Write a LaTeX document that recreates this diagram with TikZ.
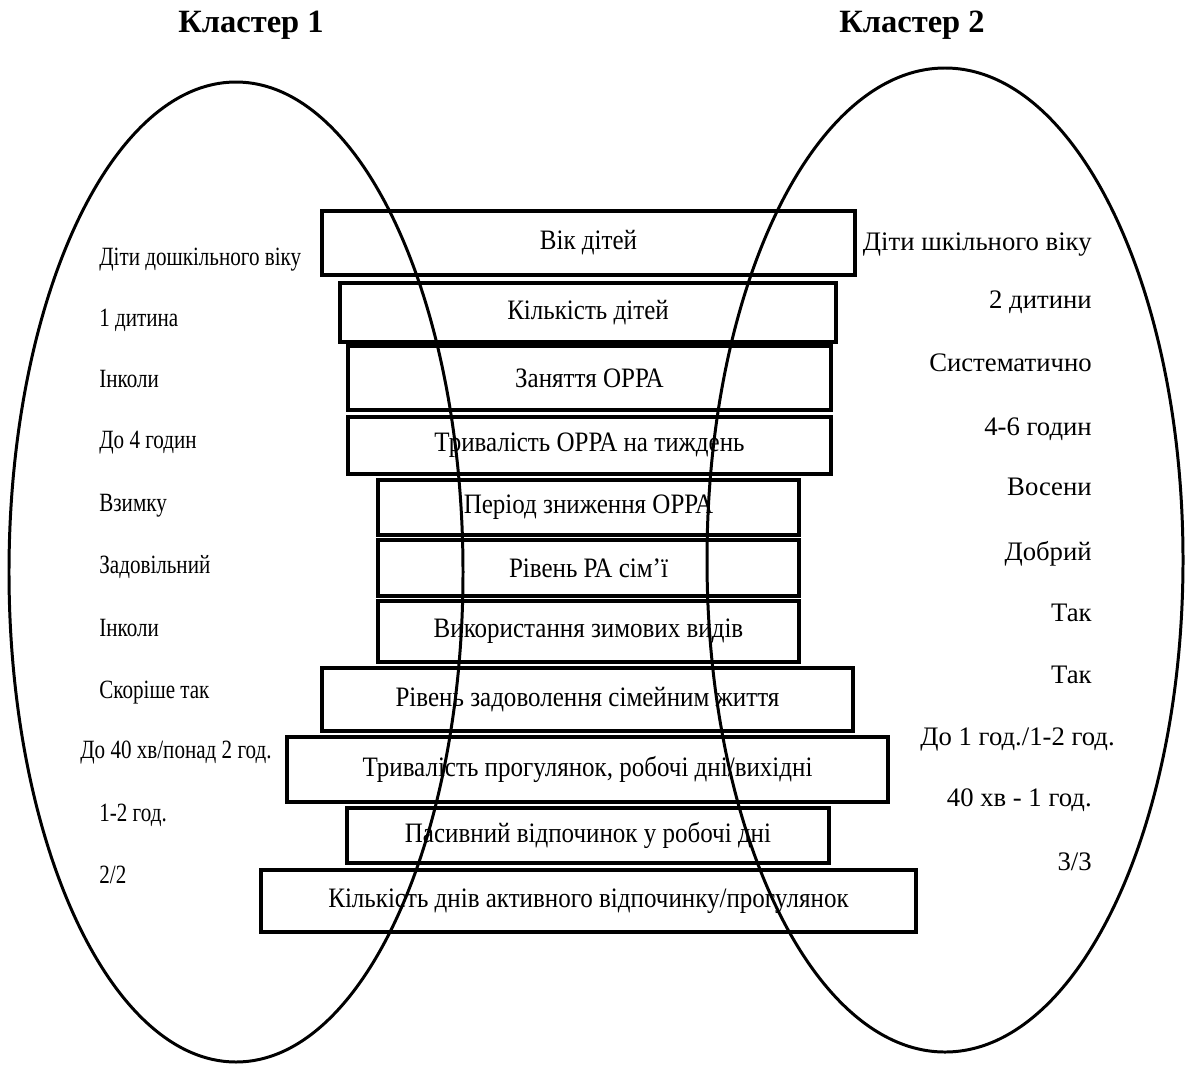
\documentclass[tikz,border=0pt]{standalone}
\usepackage{fontspec}
\setmainfont{Liberation Serif}
\newfontfamily\narrowfont{Liberation Serif}[FakeStretch=0.80]
\newfontfamily\boxfont{Liberation Serif}[FakeStretch=0.89]
\usetikzlibrary{positioning}

\tikzset{
	ring/.style={line width=1.7pt},
	factor/.style={draw, line width=2.2pt, inner sep=0pt, font=\boxfont\fontsize{16}{18}\selectfont},
	leftval/.style={anchor=base west, inner sep=0pt, font=\narrowfont\fontsize{15}{17}\selectfont},
	rightval/.style={anchor=base east, inner sep=0pt, font=\fontsize{15.2}{17}\selectfont},
	title/.style={font=\bfseries\fontsize{18.5}{20}\selectfont}
}

\begin{document}
\begin{tikzpicture}[x=0.02cm, y=-0.02cm]
		\useasboundingbox (0,0) rectangle (1189,1065);

		\node[title] (k1) at (251,25) {Кластер 1};
		\node[title] (k2) at (912,25) {Кластер 2};

		% factors in the middle
		\node[factor, minimum width=10.66cm, minimum height=1.28cm] (f1) at (588.5,243) {Вік дітей};
		\node[factor, minimum width=9.92cm, minimum height=1.18cm] (f2) at (588,312.5) {Кількість дітей};
		\node[factor, minimum width=9.66cm, minimum height=1.28cm] (f3) at (589.5,378) {Заняття ОРРА};
		\node[factor, minimum width=9.66cm, minimum height=1.14cm] (f4) at (589.5,445.5) {Тривалість ОРРА на тиждень};
		\node[factor, minimum width=8.42cm, minimum height=1.10cm] (f5) at (588.5,507.5) {Період зниження ОРРА};
		\node[factor, minimum width=8.42cm, minimum height=1.12cm] (f6) at (588.5,568) {Рівень РА сім’ї};
		\node[factor, minimum width=8.42cm, minimum height=1.22cm] (f7) at (588.5,631.5) {Використання зимових видів};
		\node[factor, minimum width=10.62cm, minimum height=1.26cm] (f8) at (587.5,699.5) {Рівень задоволення сімейним життя};
		\node[factor, minimum width=12.02cm, minimum height=1.30cm] (f9) at (587.5,769.5) {Тривалість прогулянок, робочі дні/вихідні};
		\node[factor, minimum width=9.64cm, minimum height=1.10cm] (f10) at (588,835.5) {Пасивний відпочинок у робочі дні};
		\node[factor, minimum width=13.10cm, minimum height=1.24cm] (f11) at (588.5,901) {Кількість днів активного відпочинку/прогулянок};

		% cluster 1
		\node[leftval] (a1) at (99,265) {Діти дошкільного віку};
		\node[leftval] (a2) at (99,326) {1 дитина};
		\node[leftval] (a3) at (99,387) {Інколи};
		\node[leftval] (a4) at (99,448) {До 4 годин};
		\node[leftval] (a5) at (99,511) {Взимку};
		\node[leftval] (a6) at (99,573) {Задовільний};
		\node[leftval] (a7) at (99,636) {Інколи};
		\node[leftval] (a8) at (99,698) {Скоріше так};
		\node[leftval] (a9) at (80,758) {До 40 хв/понад 2 год.};
		\node[leftval] (a10) at (99,821) {1-2 год.};
		\node[leftval] (a11) at (99,883) {2/2};

		% cluster 2
		\node[rightval] (b1) at (1092,250) {Діти шкільного віку};
		\node[rightval] (b2) at (1092,308) {2 дитини};
		\node[rightval] (b3) at (1092,371) {Систематично};
		\node[rightval] (b4) at (1092,435) {4-6 годин};
		\node[rightval] (b5) at (1092,495) {Восени};
		\node[rightval] (b6) at (1092,560) {Добрий};
		\node[rightval] (b7) at (1092,621) {Так};
		\node[rightval] (b8) at (1092,683) {Так};
		\node[rightval] (b9) at (1115,745) {До 1 год./1-2 год.};
		\node[rightval] (b10) at (1092,806) {40 хв - 1 год.};
		\node[rightval] (b11) at (1092,870) {3/3};

		\draw[ring] (236,572) ellipse [x radius=227, y radius=490];
		\draw[ring] (945,560) ellipse [x radius=238, y radius=492];
	\end{tikzpicture}
\end{document}
